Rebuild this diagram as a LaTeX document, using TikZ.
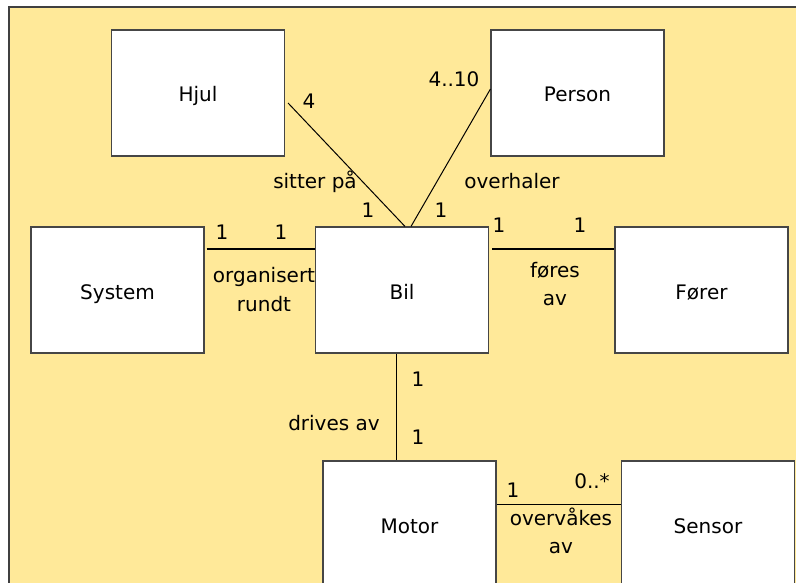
\documentclass[tikz,border=0pt]{standalone}
\usepackage{fontspec}
\setmainfont{DejaVu Sans}
\definecolor{bgyellow}{RGB}{255,233,153}
\definecolor{boxline}{RGB}{70,70,70}
\begin{document}
\begin{tikzpicture}[x=1pt,y=-1pt,
  cls/.style={draw=boxline,line width=1.1pt,fill=white,rectangle,inner sep=0pt,
    minimum width=173pt,minimum height=126pt,text height=18pt,text depth=0pt,
    font=\fontsize{20}{24}\selectfont},
  lbl/.style={inner sep=0pt,anchor=base,align=center,font=\fontsize{20}{24}\selectfont},
  assoc/.style={draw=black,line width=1pt}]
\useasboundingbox (0,0) rectangle (796,583);
% background
\fill[bgyellow] (9,7) rectangle (800,590);
\draw[line width=1.3pt,color=black!75] (9,590) -- (9,7) -- (800,7);
% classes
\node[cls] (hjul)   at (198,93)    {Hjul};
\node[cls] (person) at (577.5,93)  {Person};
\node[cls] (system) at (117.5,290) {System};
\node[cls] (bil)    at (402,290)   {Bil};
\node[cls] (forer)  at (701.5,290) {Fører};
\node[cls] (motor)  at (409.5,524) {Motor};
\node[cls] (sensor) at (708,524)   {Sensor};
% associations
\draw[assoc] ([shift={(3,10)}]hjul.east) -- ([xshift=3pt]bil.north);
\draw[assoc] ([shift={(0,-4)}]person.west) -- ([xshift=9pt]bil.north);
\draw[assoc] ([shift={(2,-41)}]system.east) -- ([shift={(0,-41)}]bil.west);
\draw[assoc] ([shift={(3,-41)}]bil.east) -- ([shift={(0,-41)}]forer.west);
\draw[assoc] ([xshift=-6pt]bil.south) -- ([xshift=-6pt]bil.south |- motor.north);
\draw[assoc] ([shift={(0,-20)}]motor.east) -- ([shift={(0,-20)}]sensor.west);
% labels
\node[lbl] (l4)    at (309,109) {4};
\node[lbl] (lsit)  at (315,189) {sitter på};
\node[lbl] (lh1)   at (368,218) {1};
\node[lbl] (l410)  at (454,87)  {4..10};
\node[lbl] (lover) at (512,189) {overhaler};
\node[lbl] (lp1)   at (441,218) {1};
\node[lbl] (ls1)   at (222,240) {1};
\node[lbl] (ls2)   at (281,240) {1};
\node[lbl] (lorg)  at (264,283) {organisert};
\node[lbl] (lrun)  at (264,311) {rundt};
\node[lbl] (lf1)   at (499,233) {1};
\node[lbl] (lf2)   at (580,233) {1};
\node[lbl] (lfor)  at (555,277) {føres};
\node[lbl] (lfav)  at (555,305) {av};
\node[lbl] (lm1)   at (418,386) {1};
\node[lbl] (lm2)   at (418,444) {1};
\node[lbl] (ldri)  at (334,430) {drives av};
\node[lbl] (lse1)  at (513,497) {1};
\node[lbl] (lse2)  at (592,488) {0..*};
\node[lbl] (lovv)  at (561,525) {overvåkes};
\node[lbl] (lsav)  at (561,553) {av};
\end{tikzpicture}
\end{document}
